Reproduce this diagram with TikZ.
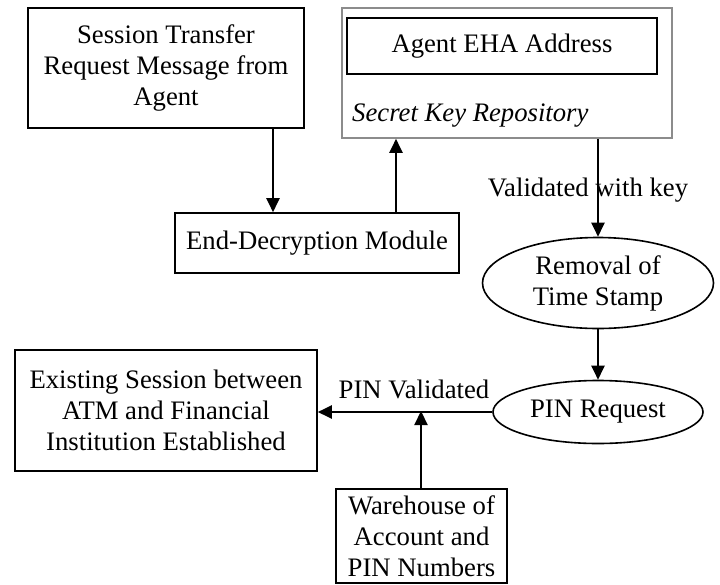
\documentclass[tikz,border=0pt]{standalone}
\usepackage{fontspec}
\setmainfont{Liberation Serif}
\usetikzlibrary{shapes.geometric,arrows.meta}
\begin{document}
\begin{tikzpicture}[x=1pt,y=-1pt,
  every node/.style={font=\fontsize{26.7}{31}\selectfont, inner sep=0pt, align=center},
  procbox/.style={draw, line width=1.6pt, rectangle},
  repobox/.style={draw=black!45, line width=1.6pt, rectangle},
  oval/.style={draw, line width=1.6pt, ellipse},
  flow/.style={line width=2.2pt, -{Triangle[length=14pt,width=13pt]}},
  plain/.style={line width=2.2pt}]
\useasboundingbox (0,0) rectangle (720,584);

% processing steps
\node[procbox, minimum width=276pt, minimum height=120pt] (req) at (166,68)
  {Session Transfer\\Request Message from\\Agent};
\node[procbox, minimum width=284pt, minimum height=60pt] (dec) at (317,243)
  {End-Decryption Module};

% key repository with the stored address
\node[repobox, minimum width=330pt, minimum height=130pt] (repo) at (507,73) {};
\node[procbox, minimum width=310pt, minimum height=56pt] (eha) at (502,46)
  {Agent EHA Address};
\node[anchor=base west] (repolbl) at (352,121) {\itshape Secret Key Repository};

% validation chain
\node[oval, minimum width=231pt, minimum height=91pt] (rts) at (598,283)
  {Removal of\\Time Stamp};
\node[oval, minimum width=210pt, minimum height=63pt] (pin) at (598,412)
  {PIN Request};
\node[procbox, minimum width=302pt, minimum height=121pt] (sess) at (166,410.5)
  {Existing Session between\\ATM and Financial\\Institution Established};
\node[procbox, minimum width=171pt, minimum height=94pt] (wh) at (421.5,536)
  {Warehouse of\\Account and\\PIN Numbers};

\coordinate (join) at (421,411);

% connectors
\draw[flow] (req.south -| 273,0) -- (dec.north -| 273,0);
\draw[flow] (dec.north -| 396,0) -- (repo.south -| 396,0);
\draw[flow] (repo.south -| rts.north) -- (rts.north);
\node[anchor=base] (vlbl) at (588,196) {Validated with key};
\draw[flow] (rts.south) -- (pin.north);
\draw[flow] (pin.west) -- (sess.east |- pin.west);
\node[anchor=base] (plbl) at (414,398) {PIN Validated};
\draw[flow] (wh.north -| join) -- (join);
\end{tikzpicture}
\end{document}
